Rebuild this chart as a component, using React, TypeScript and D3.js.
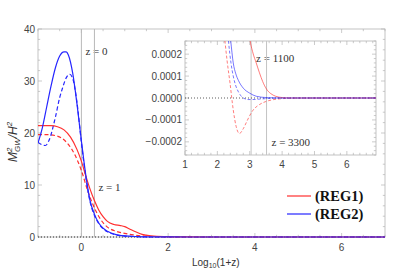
import * as React from "react";
import * as d3 from "d3";

// main panel, x = log10(1+z)
const reg1Solid: [number, number][] = [
  [-1, 21.4], [-0.7, 21.4], [-0.55, 21.2], [-0.4, 20.6], [-0.25, 19.2], [-0.1, 16.8],
  [0, 14.6], [0.1, 11.8], [0.2, 9.2], [0.3, 7.0], [0.4, 5.2], [0.5, 3.9], [0.6, 3.0],
  [0.75, 2.4], [0.9, 2.2], [1.0, 2.0], [1.1, 1.6], [1.25, 1.0], [1.4, 0.5], [1.6, 0.2],
  [1.9, 0.06], [2.5, 0.01], [3, 0], [7, 0],
];
const reg1Dashed: [number, number][] = [
  [-1, 19.7], [-0.8, 19.7], [-0.6, 19.5], [-0.45, 19.0], [-0.3, 17.8], [-0.15, 15.8],
  [0, 12.8], [0.15, 8.8], [0.3, 5.6], [0.45, 3.3], [0.6, 1.9], [0.8, 1.1], [1.0, 0.7],
  [1.2, 0.4], [1.5, 0.15], [2, 0.03], [3, 0], [7, 0],
];
const reg2Solid: [number, number][] = [
  [-1, 18.1], [-0.9, 21], [-0.8, 25], [-0.7, 29], [-0.6, 32.5], [-0.5, 34.8], [-0.4, 35.6],
  [-0.35, 35.6], [-0.3, 35], [-0.2, 31.5], [-0.1, 25.5], [0, 18.5], [0.1, 12], [0.2, 7],
  [0.3, 4.4], [0.4, 2.7], [0.5, 1.7], [0.6, 1.1], [0.8, 0.45], [1.0, 0.2], [1.3, 0.08],
  [1.6, 0.03], [2, 0.01], [3, 0], [7, 0],
];
const reg2Dashed: [number, number][] = [
  [-1, 18.2], [-0.9, 17.7], [-0.83, 17.6], [-0.75, 18.5], [-0.6, 23], [-0.5, 26.8],
  [-0.44, 28.5], [-0.35, 30.6], [-0.27, 31.3], [-0.2, 30.5], [-0.1, 25.8], [0, 18.2],
  [0.1, 11.6], [0.2, 6.8], [0.3, 4.2], [0.4, 2.6], [0.5, 1.6], [0.6, 1.0], [0.8, 0.4],
  [1.0, 0.18], [1.3, 0.07], [1.6, 0.03], [2, 0.01], [3, 0], [7, 0],
];

// inset, y in units of 1e-4
const inReg1Solid: [number, number][] = [
  [2.95, 3.3], [3.0, 2.72], [3.1, 2.05], [3.2, 1.6], [3.3, 1.15], [3.4, 0.75], [3.52, 0.4],
  [3.65, 0.2], [3.8, 0.08], [4.0, 0.02], [4.3, 0], [6.9, 0],
];
const inReg1Dashed: [number, number][] = [
  [2.18, 3.3], [2.23, 2.64], [2.3, 1.7], [2.39, 0.69], [2.49, -0.54], [2.58, -1.3],
  [2.68, -1.62], [2.8, -1.4], [2.9, -1.1], [3.0, -0.8], [3.1, -0.56], [3.3, -0.3],
  [3.5, -0.16], [3.75, -0.07], [4.0, -0.03], [4.5, 0], [6.9, 0],
];
const inReg2Solid: [number, number][] = [
  [2.36, 3.3], [2.41, 2.64], [2.49, 1.6], [2.57, 1.1], [2.65, 0.8], [2.8, 0.45], [3.0, 0.22],
  [3.2, 0.08], [3.5, 0.02], [4, 0], [6.9, 0],
];
const inReg2Dashed: [number, number][] = [
  [2.3, 3.3], [2.34, 2.64], [2.42, 1.6], [2.49, 1.0], [2.57, 0.55], [2.65, 0.28], [2.8, 0],
  [2.95, -0.07], [3.1, -0.07], [3.3, -0.05], [3.6, -0.02], [4, 0], [6.9, 0],
];

const mainXTicks = [0, 2, 4, 6];
const mainYTicks = [0, 10, 20, 30, 40];
const insetXTicks = [1, 2, 3, 4, 5, 6];
const insetYTicks = [-0.0002, -0.0001, 0, 0.0001, 0.0002];
const mainMarkers = [{ z: 0, label: "z = 0" }, { z: 1, label: "z = 1" }];
const insetMarkers = [{ z: 1100, label: "z = 1100" }, { z: 3300, label: "z = 3300" }];
const legendItems = [{ label: "(REG1)", color: "#ff3030" }, { label: "(REG2)", color: "#2626ff" }];

const RED = "#ff3030";
const BLUE = "#2626ff";
const FRAME = "#b4b4b4";
const SANS = "'Liberation Sans', Arial, sans-serif";
const SERIF = "'Liberation Serif', 'Times New Roman', serif";

function frame(g: any, x: any, y: any, xMinor: number, yMinor: number, xMaj: number[], yMaj: number[]) {
  const [x0, x1] = x.range();
  const [y0, y1] = y.range();
  g.append("rect").attr("x", x0).attr("y", y1).attr("width", x1 - x0).attr("height", y0 - y1)
    .attr("fill", "none").attr("stroke", FRAME).attr("stroke-width", 0.8);
  const [dx0, dx1] = x.domain();
  const [dy0, dy1] = y.domain();
  const xm = d3.range(Math.ceil(dx0 / xMinor), Math.floor(dx1 / xMinor) + 1).map((i) => i * xMinor);
  const ym = d3.range(Math.ceil(dy0 / yMinor - 1e-9), Math.floor(dy1 / yMinor + 1e-9) + 1).map((i) => i * yMinor);
  const isMaj = (v: number, arr: number[], s: number) => arr.some((m) => Math.abs(m - v) < s / 10);
  xm.forEach((v) => {
    const len = isMaj(v, xMaj, xMinor) ? 4 : 2.2;
    const px = x(v);
    g.append("line").attr("x1", px).attr("x2", px).attr("y1", y0).attr("y2", y0 - len).attr("stroke", FRAME).attr("stroke-width", 0.7);
    g.append("line").attr("x1", px).attr("x2", px).attr("y1", y1).attr("y2", y1 + len).attr("stroke", FRAME).attr("stroke-width", 0.7);
  });
  ym.forEach((v) => {
    const len = isMaj(v, yMaj, yMinor) ? 4 : 2.2;
    const py = y(v);
    g.append("line").attr("x1", x0).attr("x2", x0 + len).attr("y1", py).attr("y2", py).attr("stroke", FRAME).attr("stroke-width", 0.7);
    g.append("line").attr("x1", x1).attr("x2", x1 - len).attr("y1", py).attr("y2", py).attr("stroke", FRAME).attr("stroke-width", 0.7);
  });
}

function drawChart(svgRef: React.RefObject<SVGSVGElement>) {
  const svg = d3.select(svgRef.current);
  svg.selectAll("*").remove();

  const x = d3.scaleLinear().domain([-1, 7]).range([38, 385]);
  const y = d3.scaleLinear().domain([0, 40]).range([237, 29]);
  const xi = d3.scaleLinear().domain([1, 6.9]).range([185, 376]);
  const yi = d3.scaleLinear().domain([-0.00026, 0.00026]).range([155, 41]);

  const defs = svg.append("defs");
  defs.append("clipPath").attr("id", "clipMain").append("rect")
    .attr("x", 38).attr("y", 29).attr("width", 347).attr("height", 210);
  defs.append("clipPath").attr("id", "clipInset").append("rect")
    .attr("x", 185).attr("y", 41).attr("width", 191).attr("height", 114);

  // main panel
  const main = svg.append("g");
  frame(main, x, y, 0.5, 2, mainXTicks, mainYTicks);

  mainYTicks.forEach((t) => {
    main.append("text").attr("x", 35).attr("y", y(t)).attr("text-anchor", "end")
      .attr("dominant-baseline", "central").attr("font-family", SANS).attr("font-size", 10).attr("fill", "#444").text(t);
  });
  mainXTicks.forEach((t) => {
    main.append("text").attr("x", x(t)).attr("y", 247).attr("text-anchor", "middle")
      .attr("dominant-baseline", "central").attr("font-family", SANS).attr("font-size", 10).attr("fill", "#444").text(t);
  });

  mainMarkers.forEach((m, i) => {
    const px = x(Math.log10(1 + m.z));
    main.append("line").attr("x1", px).attr("x2", px).attr("y1", 29).attr("y2", 237)
      .attr("stroke", "#b8b8b8").attr("stroke-width", 1);
    main.append("text").attr("x", px + 4).attr("y", i === 0 ? 51 : 187)
      .attr("dominant-baseline", "central").attr("font-family", SERIF)
      .attr("font-size", 11).attr("fill", "#333").text(m.label);
  });

  main.append("line").attr("x1", 38).attr("x2", 385).attr("y1", y(0)).attr("y2", y(0))
    .attr("stroke", "#333").attr("stroke-width", 1).attr("stroke-dasharray", "1,2");

  const line = d3.line<[number, number]>().x((d) => x(d[0])).y((d) => y(d[1])).curve(d3.curveMonotoneX);
  const curves = main.append("g").attr("clip-path", "url(#clipMain)");
  [
    { d: reg1Dashed, c: RED, dash: "4,2.5" },
    { d: reg2Dashed, c: BLUE, dash: "4,2.5" },
    { d: reg1Solid, c: RED, dash: null },
    { d: reg2Solid, c: BLUE, dash: null },
  ].forEach((s) => {
    curves.append("path").attr("d", line(s.d)).attr("fill", "none").attr("stroke", s.c)
      .attr("stroke-width", 1.2).attr("stroke-dasharray", s.dash);
  });

  // axis labels
  const xl = svg.append("text").attr("x", 192).attr("y", 266).attr("font-family", SANS).attr("font-size", 10).attr("fill", "#333");
  xl.append("tspan").text("Log");
  xl.append("tspan").attr("font-size", 7).attr("dy", 2).text("10");
  xl.append("tspan").attr("dy", -2).text("(1+z)");

  const yl = svg.append("text").attr("transform", "translate(17,162) rotate(-90)")
    .attr("font-family", SANS).attr("font-size", 12).attr("font-style", "italic").attr("fill", "#333");
  yl.append("tspan").text("M");
  yl.append("tspan").attr("font-size", 8).attr("dy", -5).text("2");
  yl.append("tspan").attr("font-size", 8).attr("dx", -4.5).attr("dy", 8).text("GW");
  yl.append("tspan").attr("dy", -3).text("/H");
  yl.append("tspan").attr("font-size", 8).attr("dy", -5).text("2");

  // inset
  const inset = svg.append("g");
  inset.append("rect").attr("x", 185).attr("y", 41).attr("width", 191).attr("height", 114).attr("fill", "#fff");
  frame(inset, xi, yi, 0.2, 0.00002, insetXTicks, insetYTicks);

  insetYTicks.forEach((t) => {
    inset.append("text").attr("x", 182).attr("y", yi(t)).attr("text-anchor", "end")
      .attr("dominant-baseline", "central").attr("font-family", SANS).attr("font-size", 10).attr("fill", "#444")
      .text(d3.format(".4f")(t).replace("-", "\u2212"));
  });
  insetXTicks.forEach((t) => {
    inset.append("text").attr("x", xi(t)).attr("y", 164).attr("text-anchor", "middle")
      .attr("dominant-baseline", "central").attr("font-family", SANS).attr("font-size", 10).attr("fill", "#444").text(t);
  });

  insetMarkers.forEach((m, i) => {
    const px = xi(Math.log10(1 + m.z));
    inset.append("line").attr("x1", px).attr("x2", px).attr("y1", 41).attr("y2", 155)
      .attr("stroke", "#c4c4c4").attr("stroke-width", 1);
    inset.append("text").attr("x", px + 5).attr("y", i === 0 ? 58 : 142)
      .attr("dominant-baseline", "central").attr("font-family", SERIF)
      .attr("font-size", 11).attr("fill", "#333").text(m.label);
  });

  inset.append("line").attr("x1", 185).attr("x2", 376).attr("y1", yi(0)).attr("y2", yi(0))
    .attr("stroke", "#333").attr("stroke-width", 0.8).attr("stroke-dasharray", "1,2");

  const iline = d3.line<[number, number]>().x((d) => xi(d[0])).y((d) => yi(d[1] * 1e-4)).curve(d3.curveMonotoneX);
  const icurves = inset.append("g").attr("clip-path", "url(#clipInset)");
  [
    { d: inReg1Dashed, c: RED, dash: "3,2" },
    { d: inReg2Dashed, c: BLUE, dash: "3,2" },
    { d: inReg1Solid, c: RED, dash: null },
    { d: inReg2Solid, c: BLUE, dash: null },
  ].forEach((s) => {
    icurves.append("path").attr("d", iline(s.d)).attr("fill", "none").attr("stroke", s.c)
      .attr("stroke-width", 0.9).attr("stroke-opacity", 0.7).attr("stroke-dasharray", s.dash);
  });

  // legend
  legendItems.forEach((it, i) => {
    const ly = 196 + i * 18;
    svg.append("line").attr("x1", 287).attr("x2", 311).attr("y1", ly).attr("y2", ly)
      .attr("stroke", it.color).attr("stroke-width", 1.2);
    svg.append("text").attr("x", 315).attr("y", ly).attr("dominant-baseline", "central")
      .attr("font-family", SERIF).attr("font-weight", "bold")
      .attr("font-size", 14.5).attr("fill", "#111").text(it.label);
  });
}

const App: React.FunctionComponent = () => {
  const svg = React.useRef<SVGSVGElement>(null);
  React.useEffect(() => {
    document.body.style.margin = "0";
    drawChart(svg);
  }, [svg]);

  return (
    <div id="chart">
      <svg ref={svg} width={415} height={268} style={{ display: "block" }} />
    </div>
  );
};

export default App;
